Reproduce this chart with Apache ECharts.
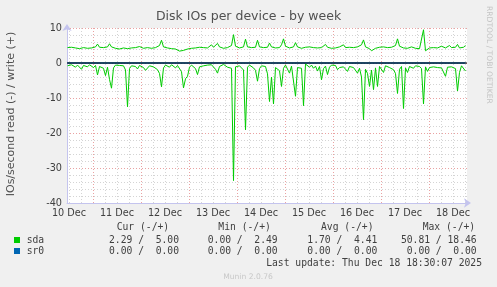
<!DOCTYPE html>
<html><head><meta charset="utf-8">
<script src="https://cdn.jsdelivr.net/npm/echarts@6/dist/echarts.min.js"></script>
<style>html,body{margin:0;padding:0;background:#f0f0f0;overflow:hidden}#c{width:497px;height:287px}</style>
</head><body><div id="c"></div>
<script>
// ---- data ----
const titleText = 'Disk IOs per device - by week';
const yAxisTitle = 'IOs/second read (-) / write (+)';
const dayLabels = ['10 Dec','11 Dec','12 Dec','13 Dec','14 Dec','15 Dec','16 Dec','17 Dec','18 Dec'];
// hours since 10 Dec 00:00
const axisStartHour = 11;
const axisEndHour = 211;
const sampleStartHour = 11.25;
const sampleStepHours = 1;

const sdaWrite = [
 4.4,4.3,4.5,4.2,4.3,4.4,4.1,4.2,4.4,4.3,
 4.2,4.0,4.3,4.4,4.6,5.4,4.5,4.3,4.4,4.7,
 4.6,5.5,4.6,4.3,4.2,4.1,4.0,4.1,4.3,4.2,
 4.1,4.2,4.3,4.5,4.4,4.3,4.7,4.4,4.2,4.3,
 4.4,4.3,4.2,4.5,4.4,4.6,5.0,6.5,4.6,4.4,
 4.3,4.2,4.1,4.2,4.0,3.8,3.4,3.1,3.6,3.9,
 4.0,4.1,4.2,4.0,4.3,4.4,4.5,5.0,4.4,4.6,
 4.3,4.7,5.2,4.5,5.0,5.6,4.6,4.4,4.2,4.3,
 4.4,4.6,5.0,8.1,4.8,4.4,4.3,4.5,4.6,6.8,
 4.6,4.3,4.4,4.2,4.5,6.5,4.6,4.3,4.4,4.2,
 4.5,5.7,4.6,4.4,4.3,4.2,4.4,5.2,6.9,4.8,
 4.5,4.3,4.4,4.6,5.8,4.6,4.4,4.2,4.3,4.5,
 5.0,4.6,4.3,4.4,4.2,4.3,4.5,4.4,4.6,5.3,
 4.5,4.3,4.2,4.4,4.3,4.5,4.6,4.4,5.2,4.4,
 4.3,4.5,4.2,4.4,4.3,4.6,5.0,5.2,6.6,4.6,
 4.4,4.1,3.5,3.7,4.2,4.3,4.5,4.4,4.6,4.3,
 4.4,4.2,4.5,4.6,5.0,6.9,4.8,4.5,4.3,4.4,
 4.2,4.5,4.6,4.3,4.2,4.3,4.1,4.2,9.5,3.5,
 4.0,4.3,4.5,4.4,4.6,4.3,4.5,4.8,4.4,4.3,
 4.6,5.0,4.4,4.6,4.5,5.3,4.3,4.6,4.5,5.0
];
const sdaRead = [
 -0.8,-1.0,-0.5,-0.7,-1.2,-0.6,-0.9,-1.8,-0.7,-0.6,
 -1.1,-0.5,-0.8,-1.3,-0.7,-3.4,-1.0,-0.6,-1.5,-3.6,
 -1.2,-4.7,-7.2,-1.4,-0.6,-0.9,-0.7,-1.1,-0.8,-2.0,
 -12.5,-1.6,-0.8,-0.6,-1.0,-1.7,-0.7,-0.9,-1.3,-2.1,
 -1.6,-0.8,-0.5,-1.1,-0.7,-1.9,-3.0,-6.8,-1.4,-0.6,
 -0.9,-1.2,-0.5,-0.8,-1.4,-0.7,-1.0,-2.5,-7.1,-4.5,
 -3.8,-1.2,-0.6,-0.9,-1.6,-3.3,-1.1,-0.7,-0.8,-1.3,
 -0.6,-1.0,-0.5,-0.8,-1.8,-2.9,-1.0,-0.6,-0.4,-0.9,
 -1.2,-0.7,-1.5,-33.6,-1.1,-0.6,-0.8,-1.0,-2.0,-19.1,
 -1.2,-0.6,-0.9,-1.4,-2.1,-5.2,-1.6,-0.8,-0.6,-1.0,
 -3.1,-11.0,-4.0,-11.7,-1.3,-0.8,-2.2,-6.7,-1.5,-0.6,
 -1.1,-2.9,-0.9,-0.7,-9.5,-1.3,-0.8,-1.5,-12.2,-0.3,
 -0.8,-1.2,-0.6,-1.5,-0.9,-2.3,-1.0,-4.8,-1.6,-0.9,
 -3.3,-1.2,-0.6,-1.0,-0.7,-1.9,-1.3,-0.8,-1.1,-0.6,
 -2.4,-1.0,-0.7,-1.3,-0.9,-2.9,-1.5,-4.0,-16.2,-1.8,
 -3.0,-6.7,-2.0,-7.6,-1.4,-6.7,-1.0,-0.9,-2.7,-0.8,
 -0.6,-1.3,-0.9,-1.9,-3.0,-8.7,-1.8,-1.0,-13.0,-1.4,
 -2.7,-1.0,-0.7,-1.5,-0.8,-1.2,-1.0,-1.6,-11.7,-1.1,
 -2.4,-1.3,-1.5,-1.1,-1.0,-1.3,-1.2,-1.4,-1.6,-3.8,
 -1.2,-0.9,-1.1,-1.5,-1.6,-8.0,-2.7,-0.8,-0.3,-2.3
];
const sr0Hours = [11.25, 210.25];
const sr0Write = [0, 0];
const sr0Read = [0, 0];
const zeroRuleHours = [11, 211];
const zeroRuleValues = [0, 0];

const legendNames = ['sda', 'sr0'];
const legendHeaders = ['Cur (-/+)', 'Min (-/+)', 'Avg (-/+)', 'Max (-/+)'];
const curText = ['2.29 /  5.00', '0.00 /  0.00'];
const minText = ['0.00 /  2.49', '0.00 /  0.00'];
const avgText = ['1.70 /  4.41', '0.00 /  0.00'];
const maxText = ['50.81 / 18.46', '0.00 /  0.00'];
const lastUpdate = 'Last update: Thu Dec 18 18:30:07 2025';
const muninVersion = 'Munin 2.0.76';
const watermark = 'RRDTOOL / TOBI OETIKER';

// ---- build ----
const green = '#00cc00', blue = '#0066b3';
const toPts = (arr) => arr.map((v, i) => [sampleStartHour + i * sampleStepHours, v]);
const minorTicks = [], majorTicks = [], labelTicks = [];
for (let h = 0; h <= 216; h += 6) {
  if (h < axisStartHour || h > axisEndHour) continue;
  if (h % 24 === 0) majorTicks.push(h); else minorTicks.push(h);
}
dayLabels.forEach((d, k) => labelTicks.push(12 + 24 * k));

const FONT = 'DejaVu Sans';
const MONO = 'DejaVu Sans Mono';
const txtCol = '#404040';
const axisCol = '#c4c4ee';

const gLeft = 67, gTop = 28, gW = 400, gH = 175;

const graphic = [
  { type: 'text', left: 'center', top: 10, style: { text: titleText, font: '12.5px "' + FONT + '"', fill: '#505050' } },
  { type: 'text', x: 11, y: 114, rotation: Math.PI / 2,
    style: { text: yAxisTitle, font: '11px "' + FONT + '"', fill: '#505050', align: 'center', verticalAlign: 'middle' } },
  { type: 'text', x: 489, y: 6, rotation: -Math.PI / 2,
    style: { text: watermark, font: '7.6px "' + FONT + '"', fill: '#c4c4c4', align: 'left', verticalAlign: 'middle' } },
];
const headerX = [116.7, 218.3, 321, 422.7];
legendHeaders.forEach((h, k) => graphic.push({ type: 'text', x: headerX[k], y: 227.7,
  style: { text: h, font: '9.7px "' + MONO + '"', fill: txtCol, align: 'left', verticalAlign: 'middle' } }));
const colRight = [179, 277.7, 377.3, 476.7];
const cols = [curText, minText, avgText, maxText];
const rowY = [240, 251];
legendNames.forEach((n, r) => {
  graphic.push({ type: 'rect', shape: { x: 14, y: rowY[r] - 3, width: 6, height: 6 }, style: { fill: r === 0 ? green : blue } });
  graphic.push({ type: 'text', x: 26.7, y: rowY[r], style: { text: n, font: '9.7px "' + MONO + '"', fill: txtCol, align: 'left', verticalAlign: 'middle' } });
  cols.forEach((c, k) => graphic.push({ type: 'text', x: colRight[k], y: rowY[r],
    style: { text: c[r], font: '9.7px "' + MONO + '"', fill: txtCol, align: 'right', verticalAlign: 'middle' } }));
});
graphic.push({ type: 'text', x: 482, y: 263.3, style: { text: lastUpdate, font: '9.7px "' + MONO + '"', fill: txtCol, align: 'right', verticalAlign: 'middle' } });
graphic.push({ type: 'text', x: 248, y: 276.7, style: { text: muninVersion, font: '7.6px "' + FONT + '"', fill: '#c8c8c8', align: 'center', verticalAlign: 'middle' } });

const lineBase = { type: 'line', xAxisIndex: 1, yAxisIndex: 0, showSymbol: false, symbol: 'none', sampling: null, silent: true };

const chart = echarts.init(document.getElementById('c'), null, { renderer: 'canvas' });
chart.setOption({
  animation: false,
  backgroundColor: '#f0f0f0',
  grid: { left: gLeft, top: gTop, width: gW, height: gH, show: true, backgroundColor: '#ffffff', borderWidth: 0 },
  xAxis: [
    { type: 'value', min: axisStartHour, max: axisEndHour, position: 'bottom', z: 0,
      axisLine: { show: false }, axisLabel: { show: false },
      axisTick: { show: false, customValues: minorTicks },
      splitLine: { show: true, lineStyle: { color: '#d4d4d4', width: 1, type: [1, 2] } } },
    { type: 'value', min: axisStartHour, max: axisEndHour, position: 'bottom', z: 1,
      axisLine: { show: true, onZero: false, lineStyle: { color: axisCol, width: 1 }, symbol: ['none', 'arrow'], symbolSize: [7, 7], symbolOffset: [0, 4] },
      axisTick: { show: false, customValues: majorTicks },
      axisLabel: { show: true, customValues: labelTicks, margin: 5, color: txtCol, fontFamily: FONT, fontSize: 9.7,
        formatter: (v) => dayLabels[Math.round((v - 12) / 24)] },
      splitLine: { show: true, lineStyle: { color: '#eaa2a2', width: 1, type: [1, 2] } } }
  ],
  yAxis: [
    { type: 'value', min: -40, max: 10, interval: 10, z: 1,
      axisLine: { show: true, onZero: false, lineStyle: { color: axisCol, width: 1 }, symbol: ['none', 'arrow'], symbolSize: [7, 7], symbolOffset: [0, 4] },
      axisTick: { show: false },
      axisLabel: { show: true, margin: 5, color: txtCol, fontFamily: FONT, fontSize: 9.7 },
      splitLine: { show: true, lineStyle: { color: '#eaa2a2', width: 1, type: [1, 2] } } },
    { type: 'value', min: -40, max: 10, interval: 2, z: 0,
      axisLine: { show: false }, axisTick: { show: false }, axisLabel: { show: false },
      splitLine: { show: true, lineStyle: { color: '#d4d4d4', width: 1, type: [1, 2] } } }
  ],
  series: [
    Object.assign({}, lineBase, { name: 'sr0 read', z: 2, data: sr0Hours.map((h, i) => [h, sr0Read[i]]), lineStyle: { color: blue, width: 1 } }),
    Object.assign({}, lineBase, { name: 'sr0 write', z: 2, data: sr0Hours.map((h, i) => [h, sr0Write[i]]), lineStyle: { color: blue, width: 1 } }),
    Object.assign({}, lineBase, { name: 'sda read', z: 3, data: toPts(sdaRead), lineStyle: { color: green, width: 1 } }),
    Object.assign({}, lineBase, { name: 'sda write', z: 3, data: toPts(sdaWrite), lineStyle: { color: green, width: 1 } }),
    Object.assign({}, lineBase, { name: 'zero', z: 4, data: zeroRuleHours.map((h, i) => [h, zeroRuleValues[i]]), lineStyle: { color: '#000000', width: 1 } })
  ],
  graphic: graphic
});
</script>
</body></html>
